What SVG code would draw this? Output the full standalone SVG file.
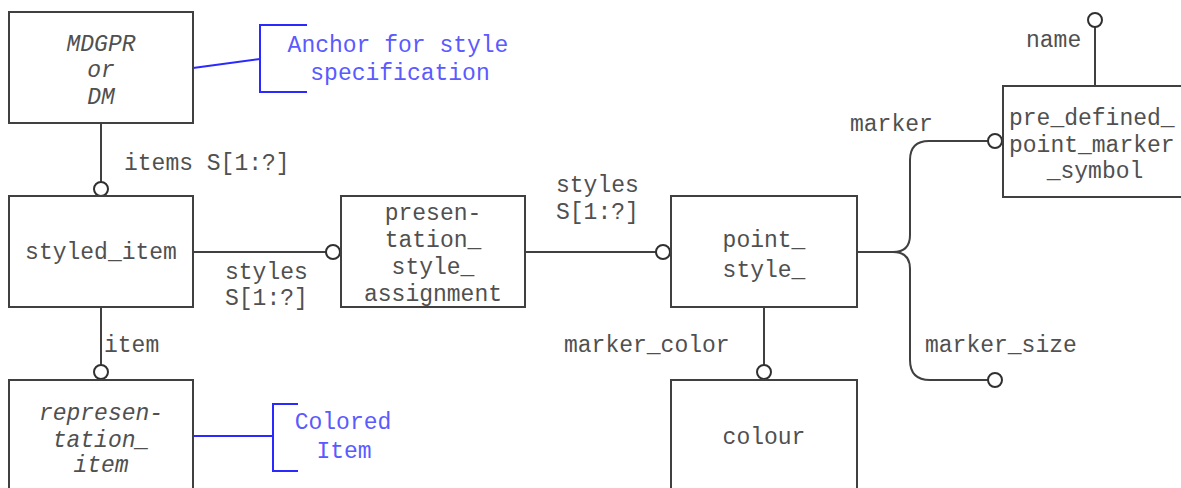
<svg xmlns="http://www.w3.org/2000/svg" width="1181" height="488" viewBox="0 0 1181 488">
<style>
.box{fill:#fff;stroke:#404040;stroke-width:2}
.ln{fill:none;stroke:#404040;stroke-width:2}
.circ{fill:#fff;stroke:#303030;stroke-width:2}
.bl{fill:none;stroke:#2a2aff;stroke-width:2}
text{font-family:"Liberation Mono","DejaVu Sans Mono",monospace;font-size:23px;fill:#505050}
.c{text-anchor:middle}
.it{font-style:italic}
.blt{fill:#5a5aff}
</style>
<rect width="1181" height="488" fill="#fff"/>
<g id="connectors">
<line class="ln" x1="101" y1="123" x2="101" y2="182"/>
<circle class="circ" cx="101" cy="189" r="7"/>
<line class="ln" x1="101" y1="307" x2="101" y2="365"/>
<circle class="circ" cx="101" cy="372" r="7"/>
<line class="ln" x1="193" y1="252" x2="326" y2="252"/>
<circle class="circ" cx="333" cy="252" r="7"/>
<line class="ln" x1="525" y1="252" x2="656" y2="252"/>
<circle class="circ" cx="663" cy="252" r="7"/>
<line class="ln" x1="764" y1="307" x2="764" y2="365"/>
<circle class="circ" cx="764" cy="372" r="7"/>
<path class="ln" d="M857 252 H893 Q910 252 910 235 V160 Q910 141 929 141 H988"/>
<circle class="circ" cx="995" cy="141" r="7"/>
<path class="ln" d="M893 252 Q910 252 910 269 V360 Q910 380 930 380 H988"/>
<circle class="circ" cx="995" cy="380" r="7"/>
<line class="ln" x1="1095" y1="86" x2="1095" y2="27"/>
<circle class="circ" cx="1095" cy="20" r="7"/>
<text x="124" y="170">items S[1:?]</text>
<text x="225" y="279">styles</text>
<text x="225" y="305">S[1:?]</text>
<text x="556" y="192">styles</text>
<text x="556" y="219">S[1:?]</text>
<text x="104" y="352">item</text>
<text x="564" y="352">marker_color</text>
<text x="850" y="131">marker</text>
<text x="925" y="352">marker_size</text>
<text x="1026" y="47">name</text>
</g>
<g id="anchor-note">
<line class="bl" x1="193" y1="68" x2="260" y2="59"/>
<path class="bl" d="M307 25 H260 V92 H307"/>
<text class="blt c" x="398" y="52">Anchor for style</text>
<text class="blt c" x="400" y="80">specification</text>
</g>
<g id="colored-note">
<line class="bl" x1="193" y1="436" x2="273" y2="436"/>
<path class="bl" d="M298 404 H273 V471 H298"/>
<text class="blt c" x="343" y="429">Colored</text>
<text class="blt c" x="344" y="458">Item</text>
</g>
<g id="mdgpr">
<rect class="box" x="9" y="12" width="184" height="111"/>
<text class="c it" x="101" y="51">MDGPR</text>
<text class="c it" x="101" y="77">or</text>
<text class="c it" x="101" y="104">DM</text>
</g>
<g id="styled_item">
<rect class="box" x="9" y="196" width="184" height="111"/>
<text class="c" x="101" y="259">styled_item</text>
</g>
<g id="presentation_style_assignment">
<rect class="box" x="341" y="196" width="184" height="111"/>
<text class="c" x="433" y="220">presen-</text>
<text class="c" x="433" y="247">tation_</text>
<text class="c" x="433" y="274">style_</text>
<text class="c" x="433" y="301">assignment</text>
</g>
<g id="point_style">
<rect class="box" x="671" y="196" width="186" height="111"/>
<text class="c" x="764" y="247">point_</text>
<text class="c" x="764" y="277">style_</text>
</g>
<g id="colour">
<rect class="box" x="671" y="380" width="186" height="120"/>
<text class="c" x="764" y="444">colour</text>
</g>
<g id="representation_item">
<rect class="box" x="9" y="380" width="184" height="120"/>
<text class="c it" x="101" y="420">represen-</text>
<text class="c it" x="101" y="447">tation_</text>
<text class="c it" x="101" y="472">item</text>
</g>
<g id="pre_defined_point_marker_symbol">
<rect class="box" x="1003" y="86" width="190" height="111"/>
<text x="1009" y="125">pre_defined_</text>
<text x="1009" y="152">point_marker</text>
<text class="c" x="1095" y="178">_symbol</text>
</g>
</svg>
